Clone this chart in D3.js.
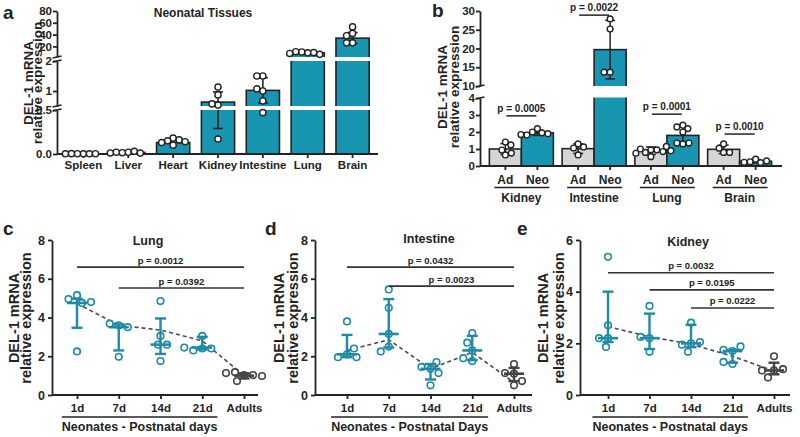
<!DOCTYPE html>
<html><head><meta charset="utf-8">
<script src="https://cdn.jsdelivr.net/npm/d3@7"></script>
<style>
body{margin:0;background:#fff}
svg{display:block;font-family:Arial,"Liberation Sans",Helvetica,sans-serif}
</style></head><body>
<svg id="chart" width="800" height="437"></svg>
<script>
// ================= DATA =================
// Panel a
const tissuesA = ["Spleen","Liver","Heart","Kidney","Intestine","Lung","Brain"];
const meanA = [0.003, 0.018, 0.13, 0.63, 1.02, 9, 34];
const sdA   = [0.002, 0.008, 0.03, 0.34, 0.42, 1.5, 9.5];
const pointsA = [
  [0.002,0.003,0.002,0.004,0.003,0.002],
  [0.02,0.015,0.03,0.02,0.01,0.012],
  [0.18,0.15,0.16,0.13,0.14,0.10],
  [1.13,0.87,0.53,0.57,0.17],
  [1.5,1.5,1.0,1.07,0.67,0.47],
  [9,10.5,9.5,11,6.5,8],
  [53,42,38,26,26]
];
const segDomainsA = [[0,0.5],[0.5,2],[2,80]];
const tickValsA = [[0,0.5],[1,2],[20,40,60,80]];

// Panel b
const groupsB = ["Kidney","Intestine","Lung","Brain"];
const conditionsB = ["Ad","Neo"];
const meanAdB  = [1.0, 1.02, 0.9, 0.98];
const sdAdB    = [0.32, 0.28, 0.22, 0.25];
const meanNeoB = [1.95, 19.7, 1.8, 0.28];
const sdNeoB   = [0.15, 7.8, 0.48, 0.1];
const ptsAdB = [[1.41,0.65,0.94,1.24,0.76],[1.3,0.65,1.06,1.12],[0.95,0.8,0.95,1.0,0.85,1.15,0.55,0.75,0.9],[0.8,1.05,1.3,0.8]];
const ptsNeoB = [[2.2,2.0,1.95,1.9,1.82,1.85],[27.9,25.2,13.7,13.7],[2.4,2.3,2.2,2.0,1.3,1.35,1.35],[0.4,0.25,0.2,0.3,0.22]];
const pTextB  = ["p = 0.0005","p = 0.0022","p = 0.0001","p = 0.0010"];
const pLevelB = [2.95, 28.9, 3.05, 1.88];
const segDomainsB = [[0,4],[10,30]];
const tickValsB = [[0,1,2,3,4],[10,15,20,25,30]];

// Panels c, d, e
const dayLabels = ["1d","7d","14d","21d","Adults"];
const lungPts = [[5.15,4.95,4.75,4.8,2.25],[3.6,3.68,3.5,1.97],[4.85,3.05,2.6,2.6,1.75],[2.4,3.05,2.3,2.4,2.45],[1.03,1.18,0.72,1.03,1.13,0.98]];
const lungMed = [4.75,3.5,2.6,2.45,1.0];
const lungLo  = [3.47,2.3,2.12,2.35,0.85];
const lungHi  = [4.97,3.65,3.95,3.0,1.12];
const lungTrend = [4.72,3.6,3.35,2.8,1.0];
const lungTicks = [0,2,4,6,8];
const lungPText = ["p = 0.0012","p = 0.0392"];
const lungPFrom = [0,1];
const lungPLevel = [6.6,5.52];

const intPts = [[2.1,3.8,1.95,2.4,1.95],[3.15,5.45,4.5,2.5,2.25],[1.35,1.45,1.7,1.13,0.5],[2.3,3.2,2.7,1.75,1.9],[1.1,1.6,0.5,1.13,0.72]];
const intMed = [2.1,3.15,1.35,2.3,1.1];
const intLo  = [1.95,2.45,0.8,1.8,0.72];
const intHi  = [3.1,4.95,1.6,3.05,1.4];
const intTrend = [2.3,2.85,1.35,2.2,0.65];
const intTicks = [0,2,4,6,8];
const intPText = ["p = 0.0432","p = 0.0023"];
const intPFrom = [0,1];
const intPLevel = [6.6,5.62];

const kidPts = [[2.2,5.35,2.7,1.86,2.2],[2.2,3.45,2.25,1.67],[2.0,2.8,1.67,1.95,2.05],[1.7,1.75,1.2,1.88,1.28],[0.95,1.5,0.68,1.0,0.95]];
const kidMed = [2.2,2.2,2.0,1.7,0.95];
const kidLo  = [2.05,1.78,1.85,1.25,0.8];
const kidHi  = [4.0,3.15,2.72,1.75,1.25];
const kidTrend = [2.65,2.25,1.97,1.5,0.93];
const kidTicks = [0,2,4,6];
const kidPText = ["p = 0.0032","p = 0.0195","p = 0.0222"];
const kidPFrom = [0,1,2];
const kidPLevel = [4.73,4.07,3.37];

// ================= HELPERS =================
const svg = d3.select("#chart");
const INK = "#232323";
const TEAL_BAR = "#1896b1";
const TEAL = "#1d8ba6";
const GREY_BAR = "#d5d5d5";
const ADULT = "#444";

function styleAxis(sel, fs) {
  sel.attr("font-family", null).attr("font-size", null);
  sel.selectAll(".domain, .tick line").attr("stroke", INK).attr("stroke-width", 1.8);
  sel.selectAll(".tick text").attr("fill", INK).attr("font-size", fs).attr("font-weight", "bold");
}
function broken(domains, ranges) {
  const sc = domains.map((d, i) => d3.scaleLinear().domain(d).range(ranges[i]));
  const f = v => { let i = domains.findIndex(d => v <= d[1]); if (i < 0) i = domains.length - 1; return sc[i](v); };
  f.parts = sc;
  return f;
}
function swarm(values, cx, yf, minDist) {
  const placed = [];
  values.forEach(v => {
    const y = yf(v);
    let off = 0;
    for (let k = 0; k < 400; k++) {
      const cand = k === 0 ? 0 : (k % 2 ? -1 : 1) * Math.ceil(k / 2) * 0.5;
      if (placed.every(p => Math.hypot(p.x - (cx + cand), p.y - y) >= minDist)) { off = cand; break; }
    }
    placed.push({ x: cx + off, y });
  });
  return placed;
}
function text(x, y, t, size, opts = {}) {
  return svg.append("text").attr("x", x).attr("y", y).attr("font-size", size)
    .attr("font-weight", opts.weight || "bold").attr("fill", INK)
    .attr("text-anchor", opts.anchor || "middle").text(t);
}
function yTitle(cy, size, b1, b2) {
  [["DEL-1 mRNA", b1], ["relative expression", b2]].forEach(([t, bx]) => {
    svg.append("text").attr("transform", `translate(${bx},${cy}) rotate(-90)`)
      .attr("text-anchor", "middle").attr("font-size", size).attr("font-weight", "bold")
      .attr("fill", INK).text(t);
  });
}
function breakMark(x, y) {
  svg.append("line").attr("x1", x - 4.5).attr("x2", x + 4.5).attr("y1", y + 1).attr("y2", y - 1)
    .attr("stroke", INK).attr("stroke-width", 1.6);
}
function errBar(g, x, y1, y2, w, color, sw) {
  g.append("line").attr("x1", x).attr("x2", x).attr("y1", y1).attr("y2", y2).attr("stroke", color).attr("stroke-width", sw);
  [y1, y2].forEach(yy => g.append("line").attr("x1", x - w / 2).attr("x2", x + w / 2).attr("y1", yy).attr("y2", yy).attr("stroke", color).attr("stroke-width", sw));
}

// ================= PANEL a =================
(function () {
  const AX = 57, AY = 154;
  const yA = broken(segDomainsA, [[154, 110], [106, 61], [57, 11]]);
  const xA = d3.scaleBand().domain(tissuesA).range([61, 375]).paddingInner(0.26).paddingOuter(0.13);
  const g = svg.append("g");
  g.selectAll("rect.bar").data(tissuesA).join("rect")
    .attr("x", d => xA(d)).attr("width", xA.bandwidth())
    .attr("y", (d, i) => yA(meanA[i])).attr("height", (d, i) => AY - yA(meanA[i]))
    .attr("fill", TEAL_BAR).attr("stroke", INK).attr("stroke-width", 1.6);
  tissuesA.forEach((t, i) => {
    if (i < 3) return;
    const cx = xA(t) + xA.bandwidth() / 2;
    errBar(g, cx, yA(meanA[i] + sdA[i]), yA(Math.max(0, meanA[i] - sdA[i])), 10, INK, 1.6);
  });
  [[106, 110], [57, 61]].forEach(([a, b]) => svg.append("rect").attr("x", AX + 1).attr("y", a).attr("width", 325).attr("height", b - a).attr("fill", "#fff"));
  yA.parts.forEach((s, i) => {
    svg.append("g").attr("transform", `translate(${AX},0)`)
      .call(d3.axisLeft(s).tickValues(tickValsA[i]).tickSize(4).tickSizeOuter(0).tickPadding(1)
        .tickFormat(i === 0 ? d3.format(".1f") : d3.format("d")))
      .call(styleAxis, 11.5);
  });
  [110, 106, 61, 57].forEach(y => breakMark(AX, y));
  const xa = svg.append("g").attr("transform", `translate(0,${AY})`)
    .call(d3.axisBottom(xA).tickSize(4).tickSizeOuter(0).tickPadding(3)).call(styleAxis, 11.5);
  xa.select(".domain").remove();
  svg.append("line").attr("x1", AX).attr("x2", 378).attr("y1", AY).attr("y2", AY).attr("stroke", INK).attr("stroke-width", 1.8);
  tissuesA.forEach((t, i) => {
    const cx = xA(t) + xA.bandwidth() / 2;
    const pts = swarm(pointsA[i], cx, yA, 6);
    svg.selectAll(null).data(pts).join("circle").attr("cx", d => d.x).attr("cy", d => d.y).attr("r", 3.1)
      .attr("fill", "#fff").attr("stroke", INK).attr("stroke-width", 1.4);
  });
  text(203, 17, "Neonatal Tissues", 12);
  text(3, 19, "a", 19, { anchor: "start" });
  yTitle(83, 13.5, 33, 42);
})();

// ================= PANEL b =================
(function () {
  const AX = 480, AY = 166;
  const yB = broken(segDomainsB, [[166, 98], [86, 11]]);
  const xB = d3.scaleBand().domain(groupsB).range([485, 776]).paddingInner(0.12).paddingOuter(0.06);
  const xS = d3.scaleBand().domain(conditionsB).range([0, xB.bandwidth()]);
  const g = svg.append("g");
  const bars = [];
  groupsB.forEach((grp, i) => {
    bars.push({ x: xB(grp) + xS("Ad"), v: meanAdB[i], sd: sdAdB[i], pts: ptsAdB[i], fill: GREY_BAR });
    bars.push({ x: xB(grp) + xS("Neo"), v: meanNeoB[i], sd: sdNeoB[i], pts: ptsNeoB[i], fill: TEAL_BAR });
  });
  g.selectAll("rect").data(bars).join("rect")
    .attr("x", d => d.x).attr("width", xS.bandwidth())
    .attr("y", d => yB(d.v)).attr("height", d => AY - yB(d.v))
    .attr("fill", d => d.fill).attr("stroke", INK).attr("stroke-width", 1.6);
  bars.forEach(d => {
    const cx = d.x + xS.bandwidth() / 2;
    errBar(g, cx, yB(d.v + d.sd), yB(Math.max(0, d.v - d.sd)), 10, INK, 1.5);
  });
  svg.append("rect").attr("x", AX + 1).attr("y", 86).attr("width", 310).attr("height", 11.5).attr("fill", "#fff");
  yB.parts.forEach((s, i) => {
    svg.append("g").attr("transform", `translate(${AX},0)`)
      .call(d3.axisLeft(s).tickValues(tickValsB[i]).tickSize(4).tickSizeOuter(0).tickPadding(1).tickFormat(d3.format("d")))
      .call(styleAxis, 11.5);
  });
  [98, 86].forEach(y => breakMark(AX, y));
  groupsB.forEach((grp, i) => {
    const xa = svg.append("g").attr("transform", `translate(${xB(grp)},${AY})`)
      .call(d3.axisBottom(xS).tickSize(4).tickSizeOuter(0).tickPadding(5)).call(styleAxis, 12);
    xa.select(".domain").remove();
    const cA = xB(grp) + xS("Ad") + xS.bandwidth() / 2, cN = xB(grp) + xS("Neo") + xS.bandwidth() / 2;
    svg.append("line").attr("x1", cA - 11).attr("x2", cN + 12).attr("y1", 187.5).attr("y2", 187.5).attr("stroke", INK).attr("stroke-width", 1.3);
    text((cA + cN) / 2, 202, grp, 12);
    const py = yB(pLevelB[i]);
    svg.append("line").attr("x1", cA + 1).attr("x2", cN - 1).attr("y1", py).attr("y2", py).attr("stroke", INK).attr("stroke-width", 1.5);
    text((cA + cN) / 2, py - 4, pTextB[i], 10);
  });
  svg.append("line").attr("x1", AX).attr("x2", 782).attr("y1", AY).attr("y2", AY).attr("stroke", INK).attr("stroke-width", 1.8);
  bars.forEach(d => {
    const cx = d.x + xS.bandwidth() / 2;
    const pts = swarm(d.pts, cx, yB, 6);
    svg.selectAll(null).data(pts).join("circle").attr("cx", p => p.x).attr("cy", p => p.y).attr("r", 2.9)
      .attr("fill", "#fff").attr("stroke", INK).attr("stroke-width", 1.4);
  });
  text(432, 17, "b", 19, { anchor: "start" });
  yTitle(87, 13.5, 447, 459);
})();

// ================= PANELS c, d, e =================
function dotPanel(o) {
  const AY = 395;
  const y = d3.scaleLinear().domain([0, o.yMax]).range([AY, 240]);
  const x = d3.scalePoint().domain(dayLabels).range([o.xFirst, o.xLast]);
  svg.append("g").attr("transform", `translate(${o.axisX},0)`)
    .call(d3.axisLeft(y).tickValues(o.ticks).tickSize(4).tickSizeOuter(0).tickPadding(3).tickFormat(d3.format("d")))
    .call(styleAxis, 12.5);
  const xa = svg.append("g").attr("transform", `translate(0,${AY})`)
    .call(d3.axisBottom(x).tickSize(4).tickSizeOuter(0).tickPadding(5)).call(styleAxis, 11.5);
  xa.select(".domain").remove();
  svg.append("line").attr("x1", o.axisX).attr("x2", o.axisEnd).attr("y1", AY).attr("y2", AY).attr("stroke", INK).attr("stroke-width", 1.8);
  const mid = (x("1d") + x("21d")) / 2;
  const lbl = text(mid, 431, o.xlabel, 12.5);
  const w = lbl.node().getComputedTextLength();
  svg.append("line").attr("x1", mid - w / 2).attr("x2", mid + w / 2).attr("y1", 417).attr("y2", 417).attr("stroke", INK).attr("stroke-width", 1.4);
  svg.append("path").datum(o.trend)
    .attr("d", d3.line().x((d, i) => x(dayLabels[i])).y(d => y(d)))
    .attr("fill", "none").attr("stroke", "#4a4a4a").attr("stroke-width", 1.6).attr("stroke-dasharray", "4,3");
  dayLabels.forEach((lab, i) => {
    const col = i === 4 ? ADULT : TEAL;
    const pts = swarm(o.pts[i], x(lab), y, 9);
    svg.selectAll(null).data(pts).join("circle").attr("cx", p => p.x).attr("cy", p => p.y).attr("r", 3.3)
      .attr("fill", "#fff").attr("stroke", col).attr("stroke-width", 1.6);
  });
  const g = svg.append("g");
  dayLabels.forEach((lab, i) => {
    const col = i === 4 ? ADULT : TEAL;
    const cx = x(lab);
    errBar(g, cx, y(o.hi[i]), y(o.lo[i]), 11, col, 2.4);
    g.append("line").attr("x1", cx - 10).attr("x2", cx + 10).attr("y1", y(o.med[i])).attr("y2", y(o.med[i])).attr("stroke", col).attr("stroke-width", 2.6);
  });
  o.pText.forEach((t, k) => {
    const x1 = x(dayLabels[o.pFrom[k]]), x2 = x("Adults"), py = y(o.pLevel[k]);
    svg.append("line").attr("x1", x1).attr("x2", x2).attr("y1", py).attr("y2", py).attr("stroke", "#333").attr("stroke-width", 1.6);
    text((x1 + x2) / 2, py - 3.5, t, 9.5);
  });
  text(o.titleX, o.titleY, o.title, 12.5);
  text(o.letterX, 235, o.letter, 19, { anchor: "start" });
  yTitle(318, 14.5, o.yt1, o.yt2);
}

dotPanel({ axisX: 52, axisEnd: 258, xFirst: 77, xLast: 244, yMax: 8, ticks: lungTicks, pts: lungPts, med: lungMed, lo: lungLo, hi: lungHi,
  trend: lungTrend, pText: lungPText, pFrom: lungPFrom, pLevel: lungPLevel, title: "Lung", titleX: 148, titleY: 245,
  xlabel: "Neonates - Postnatal days", letter: "c", letterX: 3, yt1: 19, yt2: 31 });
dotPanel({ axisX: 315, axisEnd: 532, xFirst: 347, xLast: 514, yMax: 8, ticks: intTicks, pts: intPts, med: intMed, lo: intLo, hi: intHi,
  trend: intTrend, pText: intPText, pFrom: intPFrom, pLevel: intPLevel, title: "Intestine", titleX: 429, titleY: 243,
  xlabel: "Neonates - Postnatal Days", letter: "d", letterX: 265, yt1: 284, yt2: 298 });
dotPanel({ axisX: 580, axisEnd: 790, xFirst: 608, xLast: 774, yMax: 6, ticks: kidTicks, pts: kidPts, med: kidMed, lo: kidLo, hi: kidHi,
  trend: kidTrend, pText: kidPText, pFrom: kidPFrom, pLevel: kidPLevel, title: "Kidney", titleX: 688, titleY: 246,
  xlabel: "Neonates - Postnatal days", letter: "e", letterX: 517, yt1: 548, yt2: 564 });
</script>
</body></html>
